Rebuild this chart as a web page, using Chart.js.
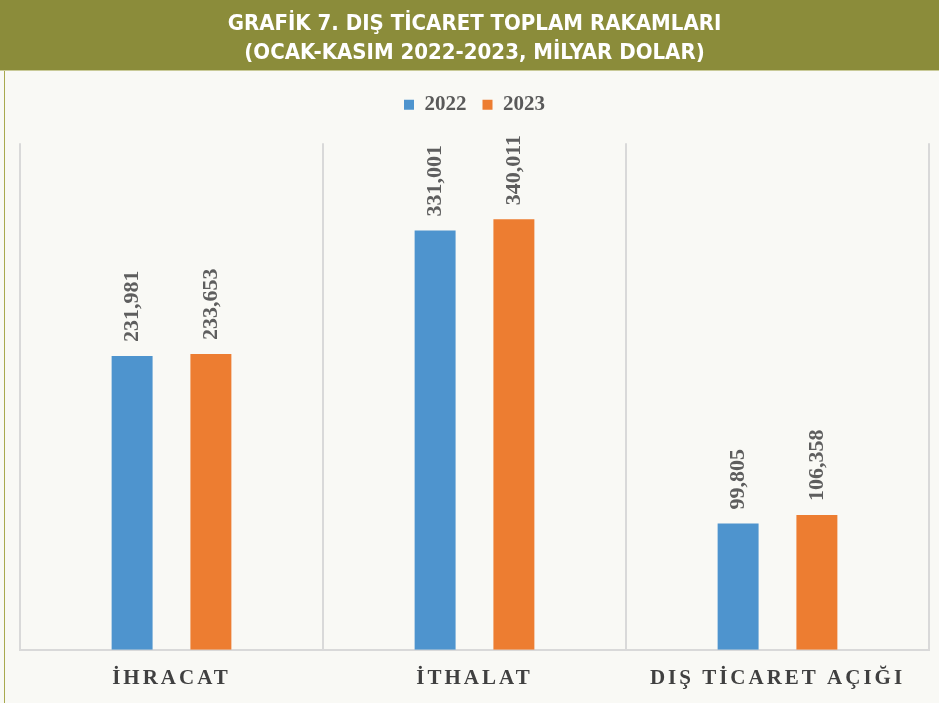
<!DOCTYPE html>
<html>
<head>
<meta charset="utf-8">
<script src="https://cdn.jsdelivr.net/npm/chart.js@4/dist/chart.umd.min.js"></script>
<style>
html,body{margin:0;padding:0;background:#F9F9F5;}
#wrap{width:939px;height:703px;}
</style>
</head>
<body>
<div id="wrap"><canvas id="c" width="939" height="703"></canvas></div>
<script>
const titleLines = ['GRAFİK 7. DIŞ TİCARET TOPLAM RAKAMLARI', '(OCAK-KASIM 2022-2023, MİLYAR DOLAR)'];
const categories = ['İHRACAT', 'İTHALAT', 'DIŞ TİCARET AÇIĞI'];
const seriesNames = ['2022', '2023'];
const values2022 = [231.981, 331.001, 99.805];
const values2023 = [233.653, 340.011, 106.358];
const labels2022 = ['231,981', '331,001', '99,805'];
const labels2023 = ['233,653', '340,011', '106,358'];

const OLIVE = '#8B8C3A';
const BLUE = '#4E94CE';
const ORANGE = '#ED7D31';

const bgPlugin = {
  id: 'bg',
  afterInit(chart) {
    const lg = chart.legend;
    if (lg && !lg._patched) {
      const f = lg.fit;
      lg.fit = function () { f.call(this); this.height += 18; };
      lg._patched = true;
    }
  },
  beforeDraw(chart) {
    const ctx = chart.ctx;
    ctx.save();
    ctx.fillStyle = '#F9F9F5';
    ctx.fillRect(0, 0, chart.width, chart.height);
    ctx.fillStyle = OLIVE;
    ctx.fillRect(0, 0, chart.width, 70);
    ctx.fillStyle = '#C9CA98';
    ctx.fillRect(0, 70, chart.width, 1);
    ctx.fillStyle = '#A8A94E';
    ctx.fillRect(4, 71, 1, chart.height - 71);
    ctx.restore();
  },
  afterLayout(chart) {
    const xs = chart.scales.x;
    if (!xs._patched) {
      const orig = xs.drawLabels;
      xs.drawLabels = function (area) {
        const ctx = this.ctx;
        ctx.save();
        ctx.letterSpacing = '3px';
        orig.call(this, area);
        ctx.restore();
      };
      xs._patched = true;
    }
  }
};

const valueLabelPlugin = {
  id: 'valueLabels',
  afterDatasetsDraw(chart) {
    const ctx = chart.ctx;
    const texts = [labels2022, labels2023];
    ctx.save();
    ctx.font = 'bold 22px "Liberation Serif", "DejaVu Serif", serif';
    ctx.fillStyle = '#5E5E5E';
    ctx.textAlign = 'left';
    ctx.textBaseline = 'middle';
    chart.data.datasets.forEach((ds, di) => {
      const meta = chart.getDatasetMeta(di);
      meta.data.forEach((bar, i) => {
        ctx.save();
        ctx.translate(bar.x, bar.y - 14);
        ctx.rotate(-Math.PI / 2);
        ctx.fillText(texts[di][i], 0, 0);
        ctx.restore();
      });
    });
    ctx.restore();
  }
};

new Chart(document.getElementById('c'), {
  type: 'bar',
  data: {
    labels: categories,
    datasets: [
      { label: seriesNames[0], data: values2022, backgroundColor: BLUE, borderWidth: 0 },
      { label: seriesNames[1], data: values2023, backgroundColor: ORANGE, borderWidth: 0 }
    ]
  },
  options: {
    responsive: false,
    animation: false,
    devicePixelRatio: 1,
    layout: { padding: { left: 20, right: 10, top: 0, bottom: -4 } },
    datasets: { bar: { categoryPercentage: 0.52, barPercentage: 0.52 } },
    plugins: {
      title: {
        display: true,
        text: titleLines,
        color: '#FFFFFF',
        font: { family: '"DejaVu Sans Condensed", "Open Sans", sans-serif', size: 22, weight: 'bold', lineHeight: 1.3 },
        padding: { top: 10, bottom: 11 }
      },
      legend: {
        display: true,
        position: 'top',
        labels: {
          boxWidth: 10,
          boxHeight: 10,
          color: '#595959',
          font: { family: '"Liberation Serif", serif', size: 21, weight: 'bold' },
          padding: 16
        }
      },
      tooltip: { enabled: false }
    },
    scales: {
      x: {
        grid: { display: true, offset: true, color: '#D9D9D9', lineWidth: 2, drawTicks: false },
        border: { display: true, color: '#D9D9D9', width: 2 },
        ticks: {
          color: '#404040',
          padding: 16,
          font: { family: '"Liberation Serif", serif', size: 21, weight: 'bold' }
        }
      },
      y: {
        display: false,
        min: 0,
        max: 400
      }
    }
  },
  plugins: [bgPlugin, valueLabelPlugin]
});
</script>
</body>
</html>
